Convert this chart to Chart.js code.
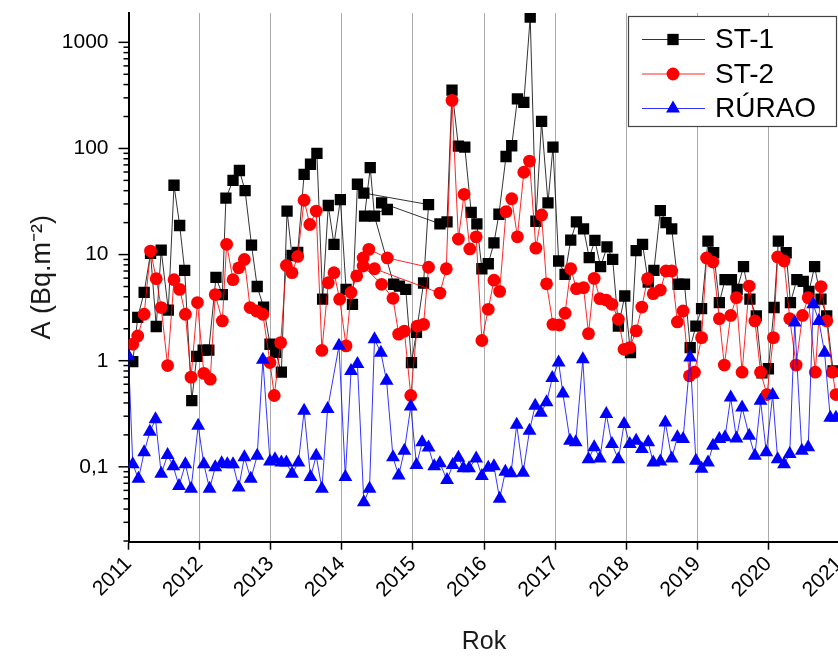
<!DOCTYPE html>
<html>
<head>
<meta charset="utf-8">
<script src="https://cdn.jsdelivr.net/npm/chart.js@4.4.0/dist/chart.umd.min.js"></script>
<style>
  html, body { margin: 0; padding: 0; background: #fff; overflow: hidden; }
  #wrap { width: 850px; height: 657px; }
</style>
</head>
<body>
<div id="wrap"><canvas id="chart" width="850" height="657"></canvas></div>
<script>
// ST-1 (data order kept as in the source, incl. the odd 2014/2015 block)
const st1Years = [
  2011.06, 2011.13, 2011.22, 2011.31, 2011.39, 2011.46, 2011.56, 2011.64, 2011.72, 2011.79, 2011.89, 2011.96,
  2012.05, 2012.13, 2012.23, 2012.32, 2012.37, 2012.47, 2012.56, 2012.64, 2012.73, 2012.81, 2012.90, 2012.99,
  2013.07, 2013.15, 2013.23, 2013.30, 2013.38, 2013.47, 2013.56, 2013.65, 2013.73, 2013.81, 2013.89, 2013.98,
  2014.06, 2014.15, 2014.22, 2014.31, 2015.22, 2015.15, 2015.05, 2014.98, 2014.90, 2014.81, 2014.73,
  2014.46, 2014.40, 2014.32, 2014.64, 2014.56,
  2015.38, 2015.48, 2015.55, 2015.64, 2015.73, 2015.82, 2015.90, 2015.97,
  2016.06, 2016.14, 2016.21, 2016.31, 2016.39, 2016.47, 2016.56, 2016.65, 2016.73, 2016.81, 2016.90, 2016.97,
  2017.05, 2017.14, 2017.22, 2017.30, 2017.40, 2017.48, 2017.56, 2017.64, 2017.73, 2017.81, 2017.89, 2017.98,
  2018.06, 2018.14, 2018.23, 2018.31, 2018.39, 2018.48, 2018.56, 2018.64, 2018.73, 2018.82, 2018.90, 2018.98,
  2019.06, 2019.15, 2019.23, 2019.31, 2019.39, 2019.48, 2019.56, 2019.65, 2019.74, 2019.83, 2019.91, 2020.00,
  2020.08, 2020.14, 2020.25, 2020.31, 2020.40, 2020.49, 2020.57, 2020.65, 2020.74, 2020.82, 2020.91
];
const st1Values = [
  0.98, 2.56, 4.4, 10.3, 2.1, 11.0, 3.0, 45, 18.8, 7.1, 0.42, 1.1,
  1.26, 1.26, 6.1, 4.2, 34, 50, 62, 40, 12.3, 5.0, 3.2, 1.43,
  1.2, 0.78, 25.7, 9.8, 10.5, 57, 71, 90, 3.8, 29, 12.5, 33,
  4.7, 3.4, 46, 38, 29.6, 5.4, 1.85, 0.96, 4.7, 5.05, 5.25,
  23, 66, 23, 26.6, 30.7,
  19.5, 20.3, 355, 105, 103, 25, 19.5, 7.35,
  8.2, 12.9, 24, 84, 106, 293, 272, 1726, 20.6, 180, 30.7, 103,
  8.7, 6.5, 13.7, 20.3, 17.5, 9.35, 13.6, 7.7, 11.8, 9.0, 2.12, 4.07,
  1.19, 10.9, 12.5, 5.5, 7.1, 26, 20, 17.5, 5.25, 5.25, 1.33, 2.12,
  3.1, 13.4, 10.4, 3.53, 5.8, 5.8, 4.7, 7.7, 3.8, 2.64, 0.77, 0.84,
  3.17, 13.4, 10.4, 3.53, 5.8, 5.6, 4.5, 7.7, 3.8, 2.64, 0.8
];

// ST-2
const st2Years = [
  2011.06, 2011.13, 2011.22, 2011.31, 2011.39, 2011.46, 2011.55, 2011.64, 2011.72, 2011.80, 2011.88, 2011.97,
  2012.06, 2012.15, 2012.22, 2012.32, 2012.38, 2012.47, 2012.55, 2012.63, 2012.71, 2012.80, 2012.89, 2012.99,
  2013.05, 2013.14, 2013.22, 2013.30, 2013.38, 2013.47, 2013.55, 2013.64, 2013.72, 2013.81, 2013.89, 2013.97,
  2014.06, 2014.13, 2014.21, 2014.30, 2014.38, 2014.64,
  2015.22, 2015.15, 2015.06, 2014.97, 2014.88, 2014.80, 2014.72, 2014.56, 2014.30, 2014.46,
  2015.38, 2015.47, 2015.55, 2015.64, 2015.72, 2015.80, 2015.89, 2015.97,
  2016.06, 2016.14, 2016.22, 2016.31, 2016.39, 2016.47, 2016.56, 2016.64, 2016.73, 2016.81, 2016.88, 2016.97,
  2017.06, 2017.14, 2017.22, 2017.30, 2017.40, 2017.47, 2017.55, 2017.63, 2017.72, 2017.80, 2017.89, 2017.97,
  2018.05, 2018.14, 2018.22, 2018.30, 2018.38, 2018.48, 2018.56, 2018.64, 2018.72, 2018.80, 2018.89, 2018.96,
  2019.06, 2019.13, 2019.22, 2019.31, 2019.38, 2019.47, 2019.55, 2019.63, 2019.73, 2019.81, 2019.89, 2019.98,
  2020.07, 2020.13, 2020.22, 2020.30, 2020.39, 2020.48, 2020.56, 2020.66, 2020.74, 2020.82, 2020.90, 2020.95
];
const st2Values = [
  1.43, 1.71, 2.74, 10.8, 5.93, 3.17, 0.9, 5.8, 4.7, 2.74, 0.70, 3.53,
  0.76, 0.67, 4.2, 2.37, 12.5, 5.8, 7.5, 9.0, 3.17, 2.94, 2.74, 0.96,
  0.47, 1.48, 7.9, 6.75, 9.6, 32.5, 19.2, 25.7, 1.25, 5.43, 6.75, 3.8,
  1.38, 4.4, 6.3, 9.3, 11.2, 9.3,
  7.6, 2.2, 2.12, 0.47, 1.9, 1.78, 3.87, 5.25, 7.8, 7.35,
  4.34, 7.35, 284, 14, 37, 11.3, 14.7, 1.55,
  3.05, 5.74, 4.5, 25.4, 33.6, 14.7, 59.7, 76, 11.5, 23.6, 5.3, 2.2,
  2.17, 2.8, 7.35, 4.77, 4.88, 1.8, 5.97, 3.84, 3.73, 3.4, 2.46, 1.28,
  1.33, 1.91, 3.2, 5.93, 4.28, 4.63, 7.0, 7.0, 2.32, 2.94, 0.72, 0.78,
  1.65, 9.3, 8.5, 2.49, 0.91, 2.67, 3.93, 0.78, 5.05, 2.37, 0.78, 0.48,
  1.65, 9.5, 8.7, 2.49, 0.91, 2.67, 3.93, 0.78, 5.0, 2.37, 0.78, 0.48
];

// RÚRAO
const ruraoYears = [
  2011.00, 2011.06, 2011.14, 2011.22, 2011.30, 2011.38, 2011.46, 2011.55, 2011.63, 2011.71, 2011.80, 2011.88, 2011.98,
  2012.06, 2012.14, 2012.22, 2012.31, 2012.39, 2012.47, 2012.55, 2012.63, 2012.72, 2012.81, 2012.89, 2012.99,
  2013.06, 2013.15, 2013.22, 2013.30, 2013.39, 2013.47, 2013.56, 2013.64, 2013.72, 2013.80, 2013.96,
  2014.05, 2014.13, 2014.22, 2014.31, 2014.39, 2014.46, 2014.55, 2014.63, 2014.72, 2014.80, 2014.88, 2014.97,
  2015.05, 2015.13, 2015.22, 2015.30, 2015.38, 2015.48, 2015.56, 2015.64, 2015.71, 2015.79, 2015.89, 2015.97,
  2016.06, 2016.14, 2016.22, 2016.30, 2016.38, 2016.46, 2016.55, 2016.64, 2016.72, 2016.80, 2016.88, 2016.96,
  2017.05, 2017.11, 2017.21, 2017.29, 2017.39, 2017.47, 2017.55, 2017.63, 2017.72, 2017.80, 2017.89, 2017.97,
  2018.05, 2018.14, 2018.22, 2018.31, 2018.38, 2018.48, 2018.55, 2018.64, 2018.72, 2018.80, 2018.90, 2018.98,
  2019.06, 2019.15, 2019.22, 2019.31, 2019.39, 2019.47, 2019.55, 2019.63, 2019.73, 2019.81, 2019.89, 2019.97,
  2020.06, 2020.13, 2020.22, 2020.30, 2020.37, 2020.47, 2020.56, 2020.63, 2020.71, 2020.79, 2020.87, 2020.95
];
const ruraoValues = [
  1.1, 0.106, 0.077, 0.137, 0.214, 0.28, 0.086, 0.129, 0.101, 0.066, 0.106, 0.062, 0.244,
  0.106, 0.062, 0.099, 0.108, 0.106, 0.106, 0.064, 0.123, 0.077, 0.127, 1.02, 0.112,
  0.118, 0.110, 0.110, 0.086, 0.110, 0.337, 0.080, 0.127, 0.062, 0.35, 1.38,
  0.080, 0.80, 0.93, 0.0464, 0.062, 1.59, 1.19, 0.646, 0.123, 0.083, 0.142, 0.37,
  0.104, 0.17, 0.152, 0.101, 0.108, 0.075, 0.104, 0.122, 0.097, 0.097, 0.12, 0.082,
  0.098, 0.101, 0.050, 0.090, 0.087, 0.249, 0.088, 0.219, 0.376, 0.323, 0.405, 0.686,
  0.96, 0.49, 0.176, 0.17, 1.03, 0.118, 0.153, 0.12, 0.314, 0.164, 0.118, 0.253,
  0.164, 0.176, 0.147, 0.17, 0.11, 0.112, 0.262, 0.12, 0.19, 0.183, 1.07, 0.114,
  0.096, 0.110, 0.158, 0.183, 0.19, 0.45, 0.185, 0.363, 0.196, 0.127, 0.42, 0.137,
  0.474, 0.118, 0.106, 0.132, 2.29, 0.142, 0.153, 3.4, 2.37, 1.19, 0.29, 0.29
];

const seriesNames = ['ST-1', 'ST-2', 'RÚRAO'];
const yearTicks = [2011, 2012, 2013, 2014, 2015, 2016, 2017, 2018, 2019, 2020, 2021];
const yTickValues = [0.1, 1, 10, 100, 1000];
const yTickLabels = ['0,1', '1', '10', '100', '1000'];

Chart.defaults.font.family = "'Liberation Sans', Arial, sans-serif";
Chart.defaults.color = '#000';

function toPoints(xs, ys) {
  return xs.map((x, i) => ({ x: x, y: ys[i] }));
}

// log axis tick marks: long at decades, short at 2..9
const yTickMarks = {
  id: 'yTickMarks',
  afterDraw(chart) {
    const sc = chart.scales.y;
    const ctx = chart.ctx;
    const left = chart.chartArea.left;
    ctx.save();
    ctx.strokeStyle = '#000';
    ctx.lineWidth = 1.5;
    for (let k = -2; k <= 3; k++) {
      for (let m = 1; m <= 9; m++) {
        const v = m * Math.pow(10, k);
        if (v < sc.min || v > sc.max) continue;
        const y = sc.getPixelForValue(v);
        const len = m === 1 ? 10 : 5;
        ctx.beginPath();
        ctx.moveTo(left - len, y);
        ctx.lineTo(left, y);
        ctx.stroke();
      }
    }
    ctx.restore();
  }
};

// boxed legend in the top right corner
const boxLegend = {
  id: 'boxLegend',
  afterDraw(chart) {
    const ctx = chart.ctx;
    const bx = 628, by = 16, bw = 208, bh = 110;
    const rows = [39.5, 74, 108.5];
    ctx.save();
    ctx.fillStyle = '#fff';
    ctx.fillRect(bx, by, bw, bh);
    ctx.strokeStyle = '#444';
    ctx.lineWidth = 1.2;
    ctx.strokeRect(bx + 0.5, by + 0.5, bw, bh);
    chart.data.datasets.forEach((ds, i) => {
      const y = rows[i];
      ctx.strokeStyle = ds.borderColor;
      ctx.lineWidth = 1;
      ctx.beginPath();
      ctx.moveTo(642, y);
      ctx.lineTo(705, y);
      ctx.stroke();
      ctx.fillStyle = ds.pointBackgroundColor;
      ctx.strokeStyle = ds.pointBackgroundColor;
      Chart.helpers.drawPoint(ctx, { pointStyle: ds.pointStyle, radius: ds.pointRadius, rotation: 0, borderWidth: 0 }, 673, y);
      ctx.fillStyle = '#000';
      ctx.font = "28px 'Liberation Sans', Arial, sans-serif";
      ctx.textBaseline = 'middle';
      ctx.textAlign = 'left';
      ctx.fillText(seriesNames[i], 715, y + 1);
    });
    ctx.restore();
  }
};

new Chart(document.getElementById('chart').getContext('2d'), {
  type: 'line',
  data: {
    datasets: [
      {
        label: seriesNames[0],
        data: toPoints(st1Years, st1Values),
        borderColor: 'rgba(0,0,0,0.8)',
        borderWidth: 1,
        pointStyle: 'rect',
        pointRadius: 8,
        pointBackgroundColor: '#000',
        pointBorderColor: '#000',
        pointBorderWidth: 0,
        order: 3
      },
      {
        label: seriesNames[1],
        data: toPoints(st2Years, st2Values),
        borderColor: 'rgba(255,0,0,0.85)',
        borderWidth: 1,
        pointStyle: 'circle',
        pointRadius: 6.4,
        pointBackgroundColor: '#ff0000',
        pointBorderColor: '#ff0000',
        pointBorderWidth: 0,
        order: 2
      },
      {
        label: seriesNames[2],
        data: toPoints(ruraoYears, ruraoValues),
        borderColor: 'rgba(0,0,255,0.8)',
        borderWidth: 1,
        pointStyle: 'triangle',
        pointRadius: 8,
        pointBackgroundColor: '#0000ff',
        pointBorderColor: '#0000ff',
        pointBorderWidth: 0,
        order: 1
      }
    ]
  },
  options: {
    responsive: false,
    animation: false,
    layout: { padding: { top: 13, right: 10.5, left: 0, bottom: 0 } },
    plugins: {
      legend: { display: false },
      tooltip: { enabled: false }
    },
    scales: {
      x: {
        type: 'linear',
        min: 2011,
        max: 2021,
        afterBuildTicks: (scale) => { scale.ticks = yearTicks.map(v => ({ value: v })); },
        afterFit: (scale) => {
          scale.height = 115.3;
          scale.paddingLeft = 0;
          scale.paddingRight = 0;
        },
        ticks: {
          autoSkip: false,
          minRotation: 45,
          maxRotation: 45,
          padding: 2,
          font: { size: 21 },
          color: '#000',
          callback: (v) => String(v)
        },
        grid: {
          color: '#aaaaaa',
          lineWidth: 1,
          tickColor: '#000',
          tickLength: 8,
          tickWidth: 1.5
        },
        border: { color: '#000', width: 2 },
        title: {
          display: true,
          text: 'Rok',
          font: { size: 25 },
          color: '#1a1a1a',
          padding: { top: 0, bottom: 0 }
        }
      },
      y: {
        type: 'logarithmic',
        min: 0.0197,
        max: 1890,
        afterBuildTicks: (scale) => { scale.ticks = yTickValues.map(v => ({ value: v, major: true })); },
        afterFit: (scale) => {
          scale.width = 128.5;
          scale.paddingTop = 0;
          scale.paddingBottom = 0;
        },
        ticks: {
          autoSkip: false,
          padding: 20,
          font: { size: 21 },
          color: '#000',
          callback: (v) => {
            const i = yTickValues.indexOf(v);
            return i >= 0 ? yTickLabels[i] : '';
          }
        },
        grid: { drawOnChartArea: false, drawTicks: false },
        border: { color: '#000', width: 2 },
        title: {
          display: true,
          text: 'A (Bq.m⁻²)',
          font: { size: 27 },
          color: '#1a1a1a',
          padding: { top: 26, bottom: 0 }
        }
      }
    }
  },
  plugins: [yTickMarks, boxLegend]
});
</script>
</body>
</html>
